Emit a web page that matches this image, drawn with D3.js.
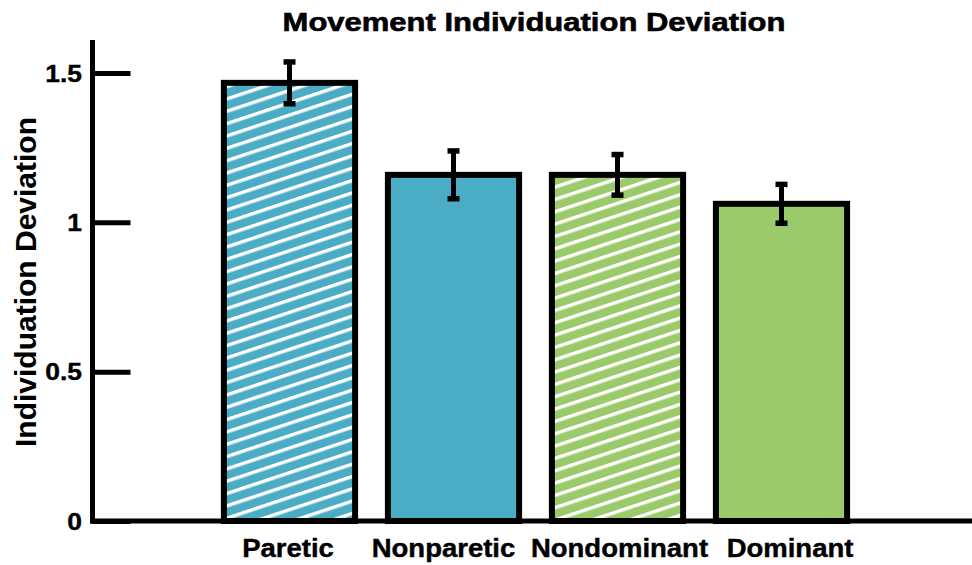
<!DOCTYPE html>
<html>
<head>
<meta charset="utf-8">
<script src="https://cdn.jsdelivr.net/npm/d3@7"></script>
<style>
  html, body { margin: 0; padding: 0; background: #fff; }
  svg { display: block; font-family: "Liberation Sans", Arial, sans-serif; font-weight: bold; }
</style>
</head>
<body>
<svg id="chart" width="972" height="565"></svg>
<script>
// Group means and standard errors
const categories = ["Paretic", "Nonparetic", "Nondominant", "Dominant"];
const means = [1.467, 1.159, 1.159, 1.062];
const errors = [0.07, 0.08, 0.068, 0.065];
const hatched = [true, false, true, false];
const fillColors = ["#4BACC6", "#4BACC6", "#9BCA6A", "#9BCA6A"];
const yTicks = [0, 0.5, 1, 1.5];
const yTickLabels = ["0", "0.5", "1", "1.5"];

const svg = d3.select("#chart");
const W = 972;
const axisX = 92.5, axisY = 521, axisTop = 40;
// horizontal nudge of each category label relative to its bar centre
const labelNudge = [-1.5, -10, 2, 8.5];

const x = d3.scaleBand()
  .domain(categories)
  .range([207.5, 863.5])
  .paddingInner(0.2)
  .paddingOuter(0.1);

const y = d3.scaleLinear().domain([0, 1.5]).range([axisY, 73]);

// Diagonal white-stripe patterns for the hatched groups
const defs = svg.append("defs");
categories.forEach((c, i) => {
  if (!hatched[i]) return;
  const p = defs.append("pattern")
    .attr("id", "hatch" + i)
    .attr("patternUnits", "userSpaceOnUse")
    .attr("width", 20)
    .attr("height", 11.7)
    .attr("patternTransform", "rotate(-18.4)");
  p.append("rect").attr("width", 20).attr("height", 11.7).attr("fill", fillColors[i]);
  p.append("rect").attr("y", 0).attr("width", 20).attr("height", 3.4).attr("fill", "#fff");
});

const data = categories.map((c, i) => ({ c, m: means[i], e: errors[i], i }));

// Bars
svg.append("g").selectAll("rect")
  .data(data)
  .join("rect")
  .attr("x", d => x(d.c))
  .attr("y", d => y(d.m))
  .attr("width", x.bandwidth())
  .attr("height", d => y(0) - y(d.m))
  .attr("fill", d => hatched[d.i] ? `url(#hatch${d.i})` : fillColors[d.i])
  .attr("stroke", "#000")
  .attr("stroke-width", 6);

// Error bars
const eb = svg.append("g").selectAll("g").data(data).join("g");
eb.append("line")
  .attr("x1", d => x(d.c) + x.bandwidth() / 2)
  .attr("x2", d => x(d.c) + x.bandwidth() / 2)
  .attr("y1", d => y(d.m + d.e))
  .attr("y2", d => y(d.m - d.e))
  .attr("stroke", "#000").attr("stroke-width", 5);
[1, -1].forEach(s => {
  eb.append("line")
    .attr("x1", d => x(d.c) + x.bandwidth() / 2 - 6)
    .attr("x2", d => x(d.c) + x.bandwidth() / 2 + 6)
    .attr("y1", d => y(d.m + s * d.e))
    .attr("y2", d => y(d.m + s * d.e))
    .attr("stroke", "#000").attr("stroke-width", 5.5);
});

// Axes
const gy = svg.append("g").attr("transform", `translate(${axisX},0)`)
  .call(d3.axisRight(y).tickValues(yTicks).tickSize(38).tickFormat(""));
gy.select(".domain").remove();
gy.selectAll(".tick line").attr("stroke", "#000").attr("stroke-width", 5);

svg.append("line")
  .attr("x1", axisX).attr("x2", axisX)
  .attr("y1", axisTop).attr("y2", axisY + 2.5)
  .attr("stroke", "#000").attr("stroke-width", 5);
svg.append("line")
  .attr("x1", axisX - 2.5).attr("x2", W)
  .attr("y1", axisY).attr("y2", axisY)
  .attr("stroke", "#000").attr("stroke-width", 5);

// Y tick labels
svg.append("g").selectAll("text")
  .data(yTicks)
  .join("text")
  .attr("transform", d => `translate(82,${y(d) + 8.5}) scale(1.1,1)`)
  .attr("text-anchor", "end")
  .attr("font-size", 24)
  .attr("stroke", "#000").attr("stroke-width", 0.4)
  .text((d, i) => yTickLabels[i]);

// Category labels
svg.append("g").selectAll("text")
  .data(categories)
  .join("text")
  .attr("transform", (d, i) => `translate(${x(d) + x.bandwidth() / 2 + labelNudge[i]},557) scale(1.1,1)`)
  .attr("text-anchor", "middle")
  .attr("font-size", 25)
  .attr("stroke", "#000").attr("stroke-width", 0.4)
  .text(d => d);

// Title
svg.append("text")
  .attr("transform", "translate(534,30.5) scale(1.24,1)")
  .attr("text-anchor", "middle")
  .attr("font-size", 25)
  .attr("stroke", "#000").attr("stroke-width", 0.6)
  .text("Movement Individuation Deviation");

// Y axis title
svg.append("text")
  .attr("transform", "translate(36,282) rotate(-90)")
  .attr("text-anchor", "middle")
  .attr("font-size", 30)
  .text("Individuation Deviation");
</script>
</body>
</html>
